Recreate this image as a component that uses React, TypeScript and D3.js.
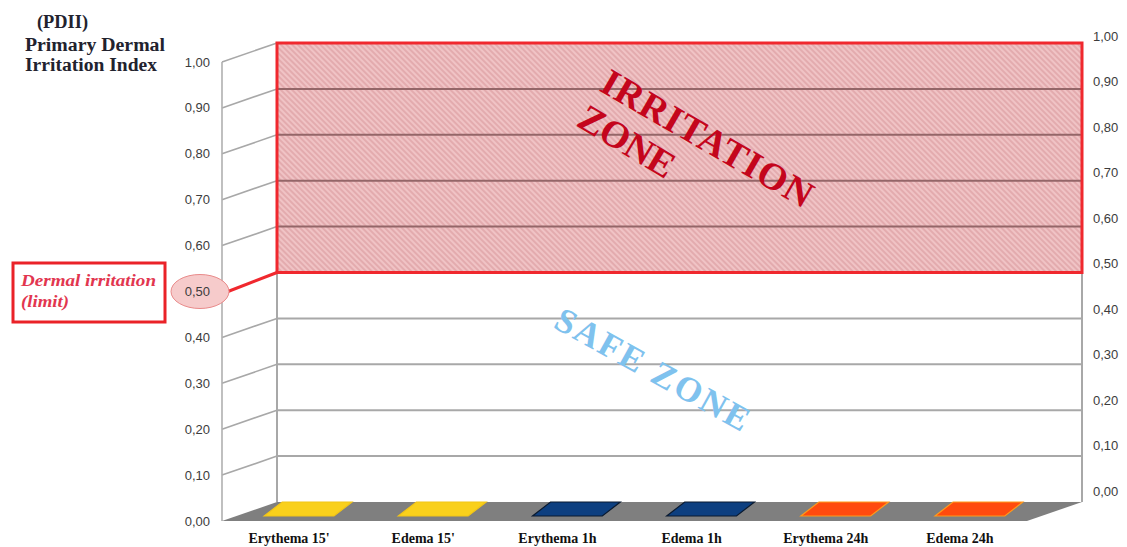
import * as d3 from "d3";
import { useEffect, useRef } from "react";

// chart values
const categories = ["Erythema 15'", "Edema 15'", "Erythema 1h", "Edema 1h", "Erythema 24h", "Edema 24h"];
const pdiiValues = [0, 0, 0, 0, 0, 0];
const yTicks = [0, 0.1, 0.2, 0.3, 0.4, 0.5, 0.6, 0.7, 0.8, 0.9, 1.0];
const irritationLimit = 0.5;
const titleLines = ["(PDII)", "Primary Dermal", "Irritation Index"];
const limitLines = ["Dermal irritation", "(limit)"];

const W = 1127;
const H = 547;

const App = () => {
  const svgRef = useRef<SVGSVGElement>(null);

  useEffect(() => {
    const svg = d3.select(svgRef.current);
    svg.selectAll("*").remove();
    svg.attr("width", W).attr("height", H);

    // 3D box geometry
    const backLeft = 277;
    const backRight = 1082;
    const depthX = -55;
    const depthY = 19;

    const yBack = d3.scaleLinear().domain([0, 1]).range([502, 43]);
    const yFront = (v: number) => yBack(v) + depthY;
    const yRight = d3.scaleLinear().domain([0, 1]).range([491, 36]);
    const x = d3
      .scaleBand<string>()
      .domain(categories)
      .range([backLeft + depthX, backRight + depthX]);

    const fmt = (v: number) => d3.format(".2f")(v).replace(".", ",");

    const fillColor = d3
      .scaleOrdinal<string, string>()
      .domain(categories)
      .range(["#f9d01c", "#f9d01c", "#0d3f80", "#0d3f80", "#ff4a0e", "#ff4a0e"]);
    const strokeColor = d3
      .scaleOrdinal<string, string>()
      .domain(categories)
      .range(["#f2c516", "#f2c516", "#0a1a30", "#0a1a30", "#ff9a1a", "#ff9a1a"]);

    // hatch pattern
    const defs = svg.append("defs");
    const pat = defs
      .append("pattern")
      .attr("id", "hatch")
      .attr("patternUnits", "userSpaceOnUse")
      .attr("width", 4)
      .attr("height", 4)
      .attr("patternTransform", "rotate(45)");
    pat.append("rect").attr("width", 4).attr("height", 4).attr("fill", "#f0c3c5");
    pat
      .append("line")
      .attr("x1", 0)
      .attr("y1", 1)
      .attr("x2", 4)
      .attr("y2", 1)
      .attr("stroke", "#dc9ea2")
      .attr("stroke-width", 1.3);

    const g = svg.append("g");

    // irritation zone fill
    g.append("rect")
      .attr("x", backLeft)
      .attr("y", yBack(1))
      .attr("width", backRight - backLeft)
      .attr("height", yBack(irritationLimit) - yBack(1))
      .attr("fill", "url(#hatch)");

    // back wall gridlines
    g.selectAll(".grid")
      .data(yTicks.filter((t) => t > 0))
      .enter()
      .append("line")
      .attr("x1", backLeft)
      .attr("x2", backRight)
      .attr("y1", (d) => yBack(d))
      .attr("y2", (d) => yBack(d))
      .attr("stroke", (d) => (d > irritationLimit ? "#946668" : "#a8a8a8"))
      .attr("stroke-width", 2);

    // left wall diagonals
    g.selectAll(".diag")
      .data(yTicks.filter((t) => t !== irritationLimit && t > 0))
      .enter()
      .append("line")
      .attr("x1", backLeft + depthX)
      .attr("y1", (d) => yFront(d))
      .attr("x2", backLeft)
      .attr("y2", (d) => yBack(d))
      .attr("stroke", "#a8a8a8")
      .attr("stroke-width", 1.6);

    // wall edges
    g.append("line")
      .attr("x1", backLeft + depthX)
      .attr("x2", backLeft + depthX)
      .attr("y1", yFront(1))
      .attr("y2", yFront(0))
      .attr("stroke", "#b0b0b0")
      .attr("stroke-width", 1.6);
    g.append("line")
      .attr("x1", backLeft)
      .attr("x2", backLeft)
      .attr("y1", yBack(1))
      .attr("y2", yBack(0))
      .attr("stroke", "#a8a8a8")
      .attr("stroke-width", 2);
    g.append("line")
      .attr("x1", backRight)
      .attr("x2", backRight)
      .attr("y1", yBack(irritationLimit))
      .attr("y2", yBack(0))
      .attr("stroke", "#a8a8a8")
      .attr("stroke-width", 2);

    // floor
    g.append("polygon")
      .attr(
        "points",
        [
          [backLeft, yBack(0)],
          [backRight, yBack(0)],
          [backRight + depthX, yFront(0)],
          [backLeft + depthX, yFront(0)],
        ]
          .map((p) => p.join(","))
          .join(" ")
      )
      .attr("fill", "#7f7f7f");

    // bars (flat 3D boxes)
    const barW = x.bandwidth() * 0.52;
    const barFront = 14;
    const barShift = 18;
    const barCx = (c: string) => x(c)! + x.bandwidth() / 2 + 10;
    const bars = g
      .selectAll(".bar")
      .data(categories.map((c, i) => ({ c, v: pdiiValues[i] })))
      .enter()
      .append("g");
    bars
      .append("rect")
      .attr("x", (d) => barCx(d.c) - barW / 2)
      .attr("y", (d) => yBack(d.v) + barFront)
      .attr("width", barW)
      .attr("height", (d) => yBack(0) - yBack(d.v))
      .attr("fill", (d) => fillColor(d.c));
    bars
      .append("polygon")
      .attr("points", (d) => {
        const cx = barCx(d.c);
        const yf = yBack(d.v) + barFront;
        const yb = yBack(d.v);
        return [
          [cx - barW / 2, yf],
          [cx + barW / 2, yf],
          [cx + barW / 2 + barShift, yb],
          [cx - barW / 2 + barShift, yb],
        ]
          .map((p) => p.join(","))
          .join(" ");
      })
      .attr("fill", (d) => fillColor(d.c))
      .attr("stroke", (d) => strokeColor(d.c))
      .attr("stroke-width", 1.2);

    // irritation zone border
    g.append("rect")
      .attr("x", backLeft)
      .attr("y", yBack(1))
      .attr("width", backRight - backLeft)
      .attr("height", yBack(irritationLimit) - yBack(1))
      .attr("fill", "none")
      .attr("stroke", "#f0282e")
      .attr("stroke-width", 3);

    // limit connector + ellipse
    g.append("line")
      .attr("x1", backLeft + depthX + 6)
      .attr("y1", yFront(irritationLimit))
      .attr("x2", backLeft)
      .attr("y2", yBack(irritationLimit))
      .attr("stroke", "#f0282e")
      .attr("stroke-width", 3);
    g.append("ellipse")
      .attr("cx", 200)
      .attr("cy", yFront(irritationLimit))
      .attr("rx", 29)
      .attr("ry", 17)
      .attr("fill", "#f6cbcb")
      .attr("stroke", "#e98a8a")
      .attr("stroke-width", 1);

    // left axis labels
    g.selectAll(".ylab")
      .data(yTicks)
      .enter()
      .append("text")
      .attr("x", 210)
      .attr("y", (d) => yFront(d))
      .attr("dy", "0.35em")
      .attr("text-anchor", "end")
      .style("font-family", "'Liberation Sans', Arial, sans-serif")
      .style("font-size", "13px")
      .attr("fill", "#3c3c3c")
      .text((d) => fmt(d));

    // right axis labels
    g.selectAll(".rlab")
      .data(yTicks)
      .enter()
      .append("text")
      .attr("x", 1093)
      .attr("y", (d) => yRight(d))
      .attr("dy", "0.35em")
      .style("font-family", "'Liberation Sans', Arial, sans-serif")
      .style("font-size", "13px")
      .attr("fill", "#3c3c3c")
      .text((d) => fmt(d));

    // category labels
    g.selectAll(".xlab")
      .data(categories)
      .enter()
      .append("text")
      .attr("x", (d) => x(d)! + x.bandwidth() / 2)
      .attr("y", 543)
      .attr("text-anchor", "middle")
      .style("font-family", "'Liberation Serif', 'Times New Roman', serif")
      .style("font-weight", "bold")
      .style("font-size", "14px")
      .attr("fill", "#111")
      .text((d) => d);

    // axis title
    const titleX = [37, 25, 25];
    const titleY = [28, 51, 71];
    const titleLen = [51, 140, 132];
    titleLines.forEach((t, i) => {
      g.append("text")
        .attr("x", titleX[i])
        .attr("y", titleY[i])
        .attr("textLength", titleLen[i])
        .attr("lengthAdjust", "spacingAndGlyphs")
        .style("font-family", "'Liberation Serif', 'Times New Roman', serif")
        .style("font-weight", "bold")
        .style("font-size", "18px")
        .attr("fill", "#22222e")
        .text(t);
    });

    // limit callout box
    g.append("rect")
      .attr("x", 13)
      .attr("y", 263)
      .attr("width", 152)
      .attr("height", 59)
      .attr("fill", "#fff")
      .attr("stroke", "#ea2228")
      .attr("stroke-width", 3);
    const limY = [286, 307];
    const limLen = [135, 48];
    limitLines.forEach((t, i) => {
      g.append("text")
        .attr("x", 21)
        .attr("y", limY[i])
        .attr("textLength", limLen[i])
        .attr("lengthAdjust", "spacingAndGlyphs")
        .style("font-family", "'Liberation Serif', 'Times New Roman', serif")
        .style("font-weight", "bold")
        .style("font-style", "italic")
        .style("font-size", "17px")
        .attr("fill", "#e2364f")
        .text(t);
    });

    // zone labels
    const zoneText = (txt: string, px: number, py: number, ang: number, size: number, len: number, color: string) =>
      g
        .append("text")
        .attr("transform", `translate(${px},${py}) rotate(${ang})`)
        .attr("textLength", len)
        .attr("lengthAdjust", "spacing")
        .style("font-family", "'Liberation Serif', 'Times New Roman', serif")
        .style("font-weight", "bold")
        .style("font-size", `${size}px`)
        .attr("fill", color)
        .text(txt);

    zoneText("IRRITATION", 598, 90, 30, 38, 238, "#c4051c");
    zoneText("ZONE", 575, 125, 31, 38, 106, "#c4051c");
    zoneText("SAFE ZONE", 552, 327, 29, 35, 217, "#7fc2ee");
  }, []);

  return (
    <svg
      ref={svgRef}
      style={{ position: "absolute", left: 0, top: 0, display: "block", background: "#fff" }}
    ></svg>
  );
};

export default App;
